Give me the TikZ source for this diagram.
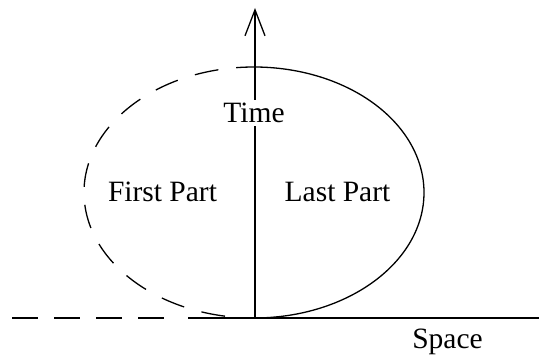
\documentclass[tikz,border=0pt]{standalone}
\usepackage{fontspec}
\setmainfont{Liberation Serif}
\usetikzlibrary{arrows.meta}
\begin{document}
\begin{tikzpicture}[x=1pt,y=-1pt,line width=1.3pt,
  lbl/.style={font=\fontsize{29.5}{34}\selectfont,inner sep=0pt,anchor=base},
  dashline/.style={dash pattern=on 26pt off 16pt},
  dashell/.style={dash pattern=on 24pt off 18pt,dash phase=24pt}]
\useasboundingbox (0,0) rectangle (539,358);
\coordinate (O) at (255,318);
\coordinate (T) at (255,8);
\coordinate (L) at (12,318);
\coordinate (D) at (172,318);
\coordinate (M) at (188,318);
\coordinate (R) at (539,318);
\coordinate (C) at (254,192.5);
% ground line
\draw[dashline] (L) -- (D);
\draw (M) -- (R);
% ellipse: solid right part, dashed left part
\draw ([shift={(C)}]90:170 and 125.5) arc[start angle=90,end angle=-96,x radius=170,y radius=125.5];
\draw[dashell] ([shift={(C)}]-96:170 and 125.5) arc[start angle=-96,end angle=-270,x radius=170,y radius=125.5];
% time axis
\draw[-{Straight Barb[length=26pt,width=20pt]}] (O) -- (T);
% labels
\node[lbl,fill=white,inner sep=3pt] (time) at (254,123) {Time};
\node[lbl] (first) at (162.5,202) {First Part};
\node[lbl] (last) at (337.5,202) {Last Part};
\node[lbl] (space) at (447.5,349) {Space};
\end{tikzpicture}
\end{document}
